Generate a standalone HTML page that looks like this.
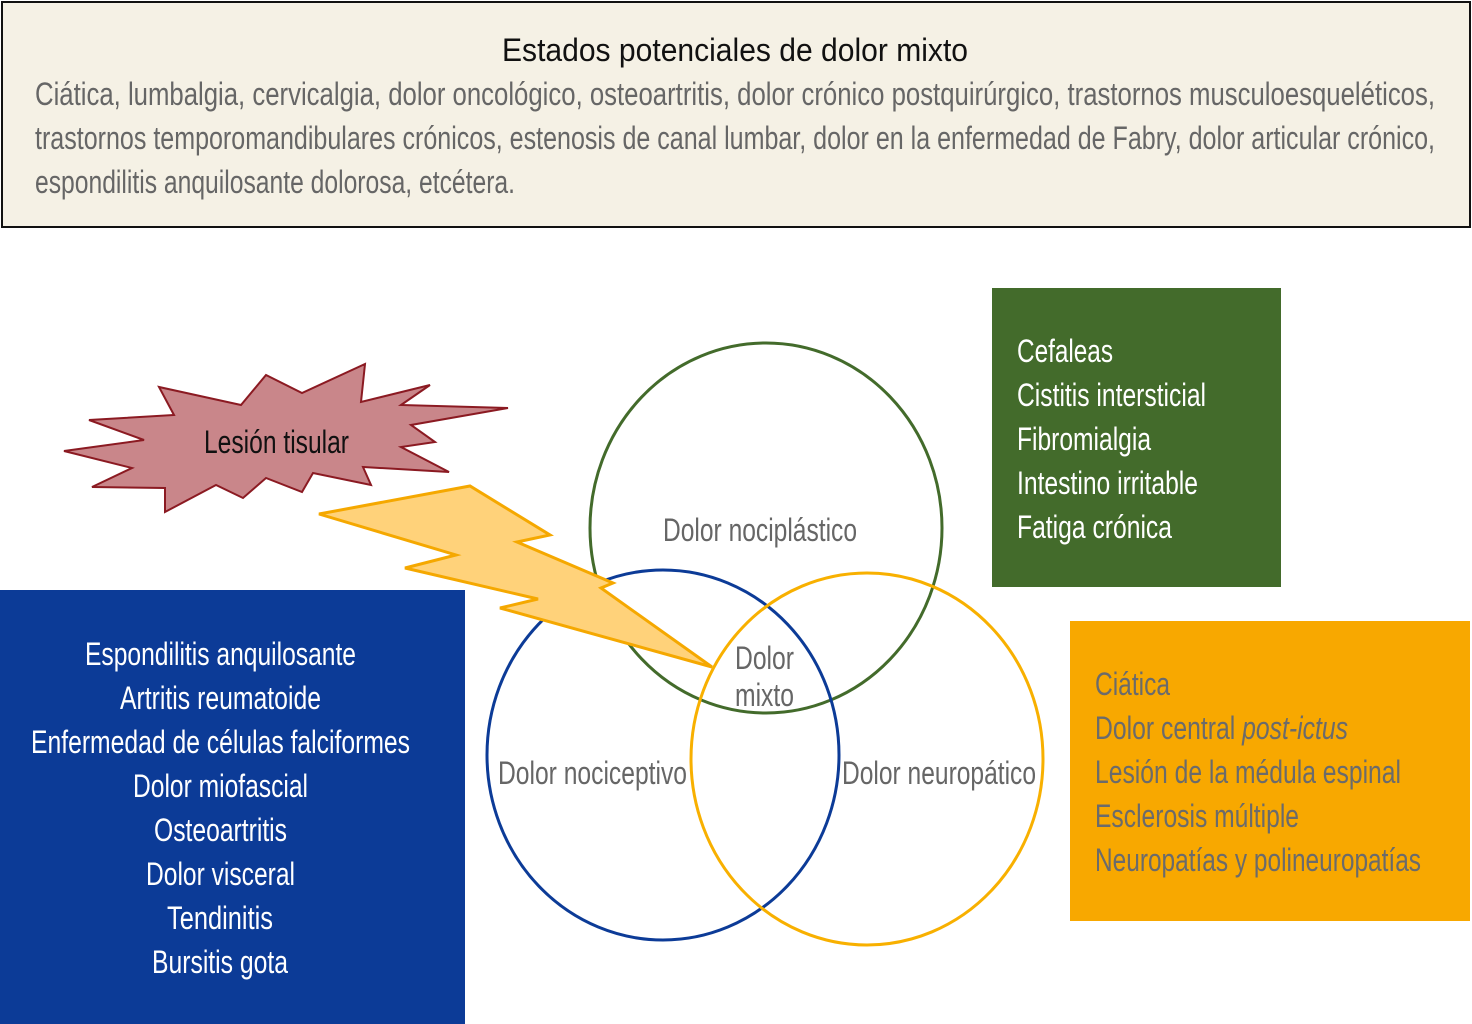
<!DOCTYPE html>
<html><head><meta charset="utf-8"><style>
html,body{margin:0;padding:0;background:#fff;}
svg{display:block;}
text{font-family:"Liberation Sans Narrow","Liberation Sans",sans-serif;}
</style></head><body>
<svg width="1472" height="1024" viewBox="0 0 1472 1024" xmlns="http://www.w3.org/2000/svg">
<rect x="2" y="2" width="1468" height="225" fill="#f5f1e5" stroke="#111" stroke-width="2"/>
<g font-size="32">
<text x="502" y="61" fill="#111" textLength="466" lengthAdjust="spacingAndGlyphs">Estados potenciales de dolor mixto</text>
<text x="35" y="105" fill="#666" textLength="1400" lengthAdjust="spacingAndGlyphs">Ciática, lumbalgia, cervicalgia, dolor oncológico, osteoartritis, dolor crónico postquirúrgico, trastornos musculoesqueléticos,</text>
<text x="35" y="149" fill="#666" textLength="1400" lengthAdjust="spacingAndGlyphs">trastornos temporomandibulares crónicos, estenosis de canal lumbar, dolor en la enfermedad de Fabry, dolor articular crónico,</text>
<text x="35" y="193" fill="#666" textLength="480" lengthAdjust="spacingAndGlyphs">espondilitis anquilosante dolorosa, etcétera.</text>
</g>

<rect x="992" y="288" width="289" height="299" fill="#436b2b"/>
<g font-size="32" fill="#fff">
<text x="1017" y="362" textLength="96" lengthAdjust="spacingAndGlyphs">Cefaleas</text>
<text x="1017" y="406" textLength="189" lengthAdjust="spacingAndGlyphs">Cistitis intersticial</text>
<text x="1017" y="450" textLength="134" lengthAdjust="spacingAndGlyphs">Fibromialgia</text>
<text x="1017" y="494" textLength="181" lengthAdjust="spacingAndGlyphs">Intestino irritable</text>
<text x="1017" y="538" textLength="155" lengthAdjust="spacingAndGlyphs">Fatiga crónica</text>
</g>

<rect x="1070" y="621" width="400" height="300" fill="#f8a800"/>
<g font-size="32" fill="#6b6b6b">
<text x="1095" y="695" textLength="75" lengthAdjust="spacingAndGlyphs">Ciática</text>
<text x="1095" y="739" textLength="253" lengthAdjust="spacingAndGlyphs">Dolor central <tspan font-style="italic">post-ictus</tspan></text>
<text x="1095" y="783" textLength="306" lengthAdjust="spacingAndGlyphs">Lesión de la médula espinal</text>
<text x="1095" y="827" textLength="204" lengthAdjust="spacingAndGlyphs">Esclerosis múltiple</text>
<text x="1095" y="871" textLength="326" lengthAdjust="spacingAndGlyphs">Neuropatías y polineuropatías</text>
</g>

<rect x="0" y="590" width="465" height="434" fill="#0c3b97"/>
<g font-size="32" fill="#fff">
<text x="85" y="665" textLength="271" lengthAdjust="spacingAndGlyphs">Espondilitis anquilosante</text>
<text x="120" y="709" textLength="201" lengthAdjust="spacingAndGlyphs">Artritis reumatoide</text>
<text x="31" y="753" textLength="379" lengthAdjust="spacingAndGlyphs">Enfermedad de células falciformes</text>
<text x="133" y="797" textLength="175" lengthAdjust="spacingAndGlyphs">Dolor miofascial</text>
<text x="154" y="841" textLength="133" lengthAdjust="spacingAndGlyphs">Osteoartritis</text>
<text x="146" y="885" textLength="149" lengthAdjust="spacingAndGlyphs">Dolor visceral</text>
<text x="167" y="929" textLength="106" lengthAdjust="spacingAndGlyphs">Tendinitis</text>
<text x="152" y="973" textLength="136" lengthAdjust="spacingAndGlyphs">Bursitis gota</text>
</g>

<ellipse cx="766" cy="528" rx="176" ry="185" fill="none" stroke="#436b2b" stroke-width="3"/>
<ellipse cx="663" cy="755" rx="176" ry="185" fill="none" stroke="#0c3b97" stroke-width="3"/>
<ellipse cx="867" cy="759" rx="176" ry="186" fill="none" stroke="#f8b000" stroke-width="3"/>

<polygon points="64,451 144,440 89,420 174,415 159,387 241,405 266,375 302,393 365,364 361,402 430,385 401,405 508,408 411,425 435,442 401,447 449,472 363,467 371,485 313,473 302,492 266,478 243,498 216,485 165,512 165,488 92,487 132,468" fill="#c9868a" stroke="#8b1a22" stroke-width="2"/>
<text x="204" y="453" font-size="32" fill="#111" textLength="145" lengthAdjust="spacingAndGlyphs">Lesión tisular</text>

<polygon points="319,514 470,486 550,535 517,542 613,583 601,588 712,667 500,608 538,599 405,568 456,555" fill="#ffd27a" stroke="#f5a800" stroke-width="3"/>

<g font-size="32" fill="#666">
<text x="663" y="541" textLength="194" lengthAdjust="spacingAndGlyphs">Dolor nociplástico</text>
<text x="498" y="784" textLength="189" lengthAdjust="spacingAndGlyphs">Dolor nociceptivo</text>
<text x="842" y="784" textLength="194" lengthAdjust="spacingAndGlyphs">Dolor neuropático</text>
<text x="735" y="669" textLength="59" lengthAdjust="spacingAndGlyphs">Dolor</text>
<text x="735" y="706" textLength="59" lengthAdjust="spacingAndGlyphs">mixto</text>
</g>
</svg>
</body></html>
